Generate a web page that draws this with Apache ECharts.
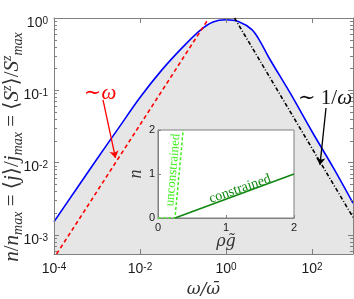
<!DOCTYPE html>
<html><head><meta charset="utf-8">
<script src="https://cdn.jsdelivr.net/npm/echarts@6/dist/echarts.min.js"></script>
<style>html,body{margin:0;padding:0;background:#fff}#c{width:354px;height:299px}</style>
</head><body><div id="c"></div>
<script>
// ---- data ----
const blueX = [1e-4, 3.2e-4, 1e-3, 3.2e-3, 1e-2, 3.2e-2, 0.1, 0.25, 0.5, 1, 2, 4, 6.3, 10, 32, 100, 320, 900];
const blueY = [1.52e-3, 4.17e-3, 0.0112, 0.0302, 0.0794, 0.19, 0.398, 0.676, 0.881, 0.946, 0.89, 0.69, 0.468, 0.282, 0.089, 0.0269, 0.0083, 0.00275];
const redX = [1.15e-4, 0.378];
const redY = [5.43e-4, 0.946];
const blackX = [1.58, 900];
const blackY = [1.0, 1.75e-3];
const conX = [0.25, 2];
const conY = [0, 1];
const unconX = [0, 0.25, 0.37];
const unconY = [0, 0, 2];
const xTickValues = [1e-4, 1e-2, 1, 1e2];
const xTickExps = ['-4', '-2', '0', '2'];
const yTickValues = [1e-3, 1e-2, 1e-1, 1];
const yTickExps = ['-3', '-2', '-1', '0'];
const xRange = [1e-4, 900];
const yRange = [5.43e-4, 1];
// annotation arrows (data coordinates)
const redArrow = [[1.38e-3, 0.0734], [2.69e-3, 0.01158]];
const blackArrow = [[212, 0.0569], [153.5, 0.00927]];

const yMinor = [];
for (let e = -4; e <= 0; e++) for (let m = 2; m <= 9; m++) {
  const v = m * Math.pow(10, e);
  if (v > yRange[0] && v < yRange[1]) yMinor.push(v);
}

const NUM = "'Liberation Sans Narrow','Liberation Sans',Arial,sans-serif";
const SERIF = "'Liberation Serif','DejaVu Serif',serif";
const DSERIF = "'DejaVu Serif',serif";
const AX = '#808080';
const tickRich = {
  b: {fontSize: 14, fontFamily: NUM, color: '#1a1a1a', lineHeight: 14, padding: [6, 0, 0, 0], verticalAlign: 'bottom'},
  s: {fontSize: 10, fontFamily: NUM, color: '#1a1a1a', lineHeight: 10, verticalAlign: 'top'}
};
function expFmt(vals, exps) {
  return function (v) {
    let k = 0, best = Infinity;
    vals.forEach((t, i) => { const d = Math.abs(Math.log10(t) - Math.log10(v)); if (d < best) { best = d; k = i; } });
    return '{b|10}{s|' + exps[k] + '}';
  };
}
const pairs = (xs, ys) => xs.map((x, i) => [x, ys[i]]);

function mainX(pos, labels) {
  return {
    type: 'log', gridIndex: 0, position: pos, min: xRange[0], max: xRange[1], z: 3,
    axisLine: {show: true, lineStyle: {color: AX, width: 1}},
    axisTick: {show: true, inside: true, length: 5, customValues: xTickValues, lineStyle: {color: AX}},
    axisLabel: labels ? {show: true, customValues: xTickValues, formatter: expFmt(xTickValues, xTickExps), rich: tickRich, margin: 8} : {show: false},
    splitLine: {show: false}, minorTick: {show: false}
  };
}
function mainY(pos, vals, len, line, labels) {
  return {
    type: 'log', gridIndex: 0, position: pos, min: yRange[0], max: yRange[1], z: 3,
    axisLine: {show: line, lineStyle: {color: AX, width: 1}},
    axisTick: {show: true, inside: true, length: len, customValues: vals, lineStyle: {color: AX}},
    axisLabel: labels ? {show: true, customValues: yTickValues, formatter: expFmt(yTickValues, yTickExps), rich: tickRich, margin: 6, padding: [10, 0, 0, 0]} : {show: false},
    splitLine: {show: false}
  };
}

const chart = echarts.init(document.getElementById('c'), null, {renderer: 'canvas'});
chart.setOption({
  animation: false,
  backgroundColor: '#fff',
  grid: [
    {left: 54, top: 18, right: 1, bottom: 45, show: false, containLabel: false, outerBoundsMode: 'none'},
    {left: 158, top: 130, width: 136, height: 88, show: true, backgroundColor: '#fff', borderColor: AX, borderWidth: 1, z: 5, containLabel: false, outerBoundsMode: 'none'}
  ],
  xAxis: [
    Object.assign(mainX('bottom', true), {
      name: 'ω/ω\u0304', nameLocation: 'middle', nameGap: 27,
      nameTextStyle: {fontFamily: DSERIF, fontStyle: 'italic', fontSize: 17, color: '#333'}
    }),
    mainX('top', false),
    {
      type: 'value', gridIndex: 1, min: 0, max: 2, interval: 1, z: 10,
      axisLine: {show: true, lineStyle: {color: AX}},
      axisTick: {show: true, inside: true, length: 3, lineStyle: {color: AX}},
      axisLabel: {fontSize: 11, fontFamily: NUM, color: '#1a1a1a', margin: 4},
      splitLine: {show: false},
      name: 'ρg\u0303', nameLocation: 'middle', nameGap: 12,
      nameTextStyle: {fontFamily: DSERIF, fontStyle: 'italic', fontSize: 16, color: '#333'}
    }
  ],
  yAxis: [
    mainY('left', yTickValues, 5, true, true),
    mainY('left', yMinor, 3, false, false),
    mainY('right', yTickValues, 5, true, false),
    mainY('right', yMinor, 3, false, false),
    {
      type: 'value', gridIndex: 1, min: 0, max: 2, interval: 1, z: 10,
      axisLine: {show: true, lineStyle: {color: AX}},
      axisTick: {show: true, inside: true, length: 3, lineStyle: {color: AX}},
      axisLabel: {fontSize: 11, fontFamily: NUM, color: '#1a1a1a', margin: 3},
      splitLine: {show: false},
      name: 'n', nameLocation: 'middle', nameGap: 12, nameRotate: 90,
      nameTextStyle: {fontFamily: SERIF, fontStyle: 'italic', fontSize: 18, color: '#333'}
    }
  ],
  series: [
    {
      type: 'line', xAxisIndex: 0, yAxisIndex: 0, data: pairs(blueX, blueY), smooth: 0.35,
      showSymbol: false, z: 2, lineStyle: {color: '#0000ff', width: 1.6},
      areaStyle: {color: '#e6e6e6', opacity: 1, origin: 'start'}
    },
    {
      type: 'line', xAxisIndex: 0, yAxisIndex: 0, data: pairs(redX, redY), showSymbol: false, z: 3,
      lineStyle: {color: '#ff0000', width: 1.6, type: [4, 3]},
      markLine: {
        silent: true, symbol: ['none', 'arrow'], symbolSize: 7, label: {show: false},
        lineStyle: {color: '#ff0000', width: 1.3, type: 'solid'},
        data: [[{coord: redArrow[0]}, {coord: redArrow[1]}]]
      }
    },
    {
      type: 'line', xAxisIndex: 0, yAxisIndex: 0, data: pairs(blackX, blackY), showSymbol: false, z: 3,
      lineStyle: {color: '#000', width: 1.6, type: [4, 2, 1, 2]},
      markLine: {
        silent: true, symbol: ['none', 'arrow'], symbolSize: 7, label: {show: false},
        lineStyle: {color: '#000', width: 1.3, type: 'solid'},
        data: [[{coord: blackArrow[0]}, {coord: blackArrow[1]}]]
      }
    },
    {
      type: 'line', xAxisIndex: 2, yAxisIndex: 4, data: pairs(unconX, unconY), showSymbol: false, z: 11,
      lineStyle: {color: '#44ee22', width: 1.5, type: [3, 2]}
    },
    {
      type: 'line', xAxisIndex: 2, yAxisIndex: 4, data: pairs(conX, conY), showSymbol: false, z: 11,
      lineStyle: {color: '#118811', width: 1.6}
    }
  ],
  graphic: [
    {
      type: 'text', x: 12, y: 147, rotation: Math.PI / 2, z: 20,
      style: {
        text: '{i|n}{r|/}{i|n}{s|max}{r| = ⟨}{i|j}{r|⟩/}{i|j}{s|max}{r| = ⟨}{i|S}{u|z}{r|⟩/}{i|S}{u|z}{s|max}',
        align: 'center', verticalAlign: 'middle', fill: '#333',
        rich: {
          i: {fontFamily: SERIF, fontStyle: 'italic', fontSize: 21, lineHeight: 21, verticalAlign: 'middle', fill: '#333'},
          r: {fontFamily: SERIF, fontSize: 21, lineHeight: 21, verticalAlign: 'middle', fill: '#333'},
          s: {fontFamily: SERIF, fontStyle: 'italic', fontSize: 14, lineHeight: 14, padding: [12, 0, 0, 0], verticalAlign: 'middle', fill: '#333'},
          u: {fontFamily: SERIF, fontStyle: 'italic', fontSize: 14, lineHeight: 14, padding: [0, 0, 10, 0], verticalAlign: 'middle', fill: '#333'}
        }
      }
    },
    {
      type: 'text', x: 100, y: 93, z: 20,
      style: {
        text: '{r|∼}{i|ω}', align: 'center', verticalAlign: 'middle',
        rich: {
          r: {fontFamily: SERIF, fontSize: 21, fill: '#ff0000'},
          i: {fontFamily: SERIF, fontStyle: 'italic', fontSize: 21, fill: '#ff0000'}
        }
      }
    },
    {
      type: 'text', x: 325, y: 98, z: 20,
      style: {
        text: '{r|∼ 1/}{i|ω}', align: 'center', verticalAlign: 'middle',
        rich: {
          r: {fontFamily: SERIF, fontSize: 21, fill: '#111'},
          i: {fontFamily: SERIF, fontStyle: 'italic', fontSize: 21, fill: '#111'}
        }
      }
    },
    {
      type: 'text', x: 240, y: 189, rotation: 19 * Math.PI / 180, z: 20,
      style: {text: 'constrained', align: 'center', verticalAlign: 'middle', fontFamily: SERIF, fontSize: 14, fill: '#118811'}
    },
    {
      type: 'text', x: 173, y: 170, rotation: 85 * Math.PI / 180, z: 20,
      style: {text: 'unconstrained', align: 'center', verticalAlign: 'middle', fontFamily: SERIF, fontSize: 13, fill: '#44ee22'}
    }
  ]
});
</script></body></html>
